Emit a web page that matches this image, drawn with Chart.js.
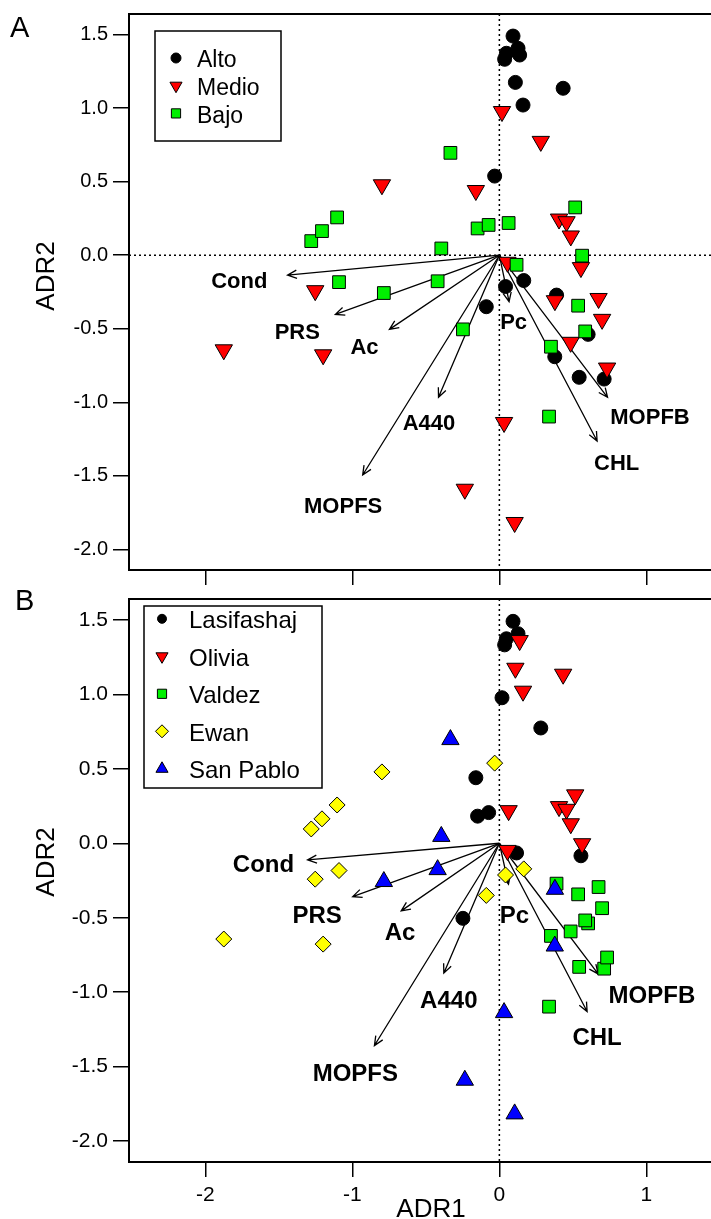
<!DOCTYPE html>
<html>
<head>
<meta charset="utf-8">
<script src="https://cdn.jsdelivr.net/npm/chart.js@4.4.1/dist/chart.umd.min.js"></script>
<style>
  html, body { margin: 0; padding: 0; background: #fff; overflow: hidden; }
  .panneau { position: absolute; left: 0; }
</style>
</head>
<body>
<div class="panneau" style="top:0"><canvas id="chartA" width="711" height="590"></canvas></div>
<div class="panneau" style="top:590px"><canvas id="chartB" width="711" height="629"></canvas></div>
<script>
// Coordonnées des échantillons (identiques dans A et B)
const adr1 = [
  0.093, 0.127, 0.048, 0.138, 0.036, 0.109, 0.434, 0.161, -0.032, 0.166, 0.042, -0.089, 0.389, 0.604, 0.377, 0.543, 0.713,
  0.018, 0.282, -0.799, -0.160, 0.406, 0.457, 0.486, 0.555, 0.055, 0.675, 0.378, 0.699, 0.485, 0.733, 0.032, -0.235, 0.104, -1.253, -1.875, -1.199,
  -0.333, 0.516, -0.148, -0.073, 0.063, -0.395, 0.563, 0.117, -0.420, -0.786, -1.091, -1.280, -1.207, -1.104, 0.536, 0.584, 0.351, -0.248, 0.338
]
const adr2 = [
  1.490, 1.407, 1.373, 1.361, 1.332, 1.175, 1.135, 1.021, 0.538, -0.172, -0.213, -0.350, -0.271, -0.538, -0.690, -0.830, -0.842,
  0.977, 0.774, 0.479, 0.440, 0.246, 0.228, 0.131, -0.084, -0.048, -0.294, -0.309, -0.436, -0.592, -0.767, -1.137, -1.591, -1.817, -0.241, -0.643, -0.677,
  0.696, 0.325, 0.182, 0.206, 0.219, 0.046, -0.003, -0.065, -0.177, -0.257, -0.183, 0.096, 0.164, 0.257, -0.343, -0.518, -0.622, -0.504, -1.097
]
// Groupe de chaque échantillon : niveau (panneau A) et site (panneau B)
const niveau = [
  'Alto', 'Alto', 'Alto', 'Alto', 'Alto', 'Alto', 'Alto', 'Alto', 'Alto', 'Alto', 'Alto', 'Alto', 'Alto', 'Alto', 'Alto', 'Alto', 'Alto',
  'Medio', 'Medio', 'Medio', 'Medio', 'Medio', 'Medio', 'Medio', 'Medio', 'Medio', 'Medio', 'Medio', 'Medio', 'Medio', 'Medio', 'Medio', 'Medio', 'Medio', 'Medio', 'Medio', 'Medio',
  'Bajo', 'Bajo', 'Bajo', 'Bajo', 'Bajo', 'Bajo', 'Bajo', 'Bajo', 'Bajo', 'Bajo', 'Bajo', 'Bajo', 'Bajo', 'Bajo', 'Bajo', 'Bajo', 'Bajo', 'Bajo', 'Bajo'
]
const site = [
  'Lasifashaj', 'Lasifashaj', 'Lasifashaj', 'Olivia', 'Lasifashaj', 'Olivia', 'Olivia', 'Olivia', 'Ewan', 'Ewan', 'Ewan', 'Ewan', 'Valdez', 'Valdez', 'San Pablo', 'Valdez', 'Valdez',
  'Lasifashaj', 'Lasifashaj', 'Ewan', 'Lasifashaj', 'Olivia', 'Olivia', 'Olivia', 'Lasifashaj', 'Olivia', 'Valdez', 'San Pablo', 'Valdez', 'Valdez', 'Valdez', 'San Pablo', 'San Pablo', 'San Pablo', 'Ewan', 'Ewan', 'Ewan',
  'San Pablo', 'Olivia', 'Lasifashaj', 'Lasifashaj', 'Olivia', 'San Pablo', 'Olivia', 'Lasifashaj', 'San Pablo', 'San Pablo', 'Ewan', 'Ewan', 'Ewan', 'Ewan', 'Valdez', 'Valdez', 'Valdez', 'Lasifashaj', 'Valdez'
]
const niveaux = ['Alto', 'Medio', 'Bajo']
const sites = ['Lasifashaj', 'Olivia', 'Valdez', 'Ewan', 'San Pablo']

// Variables du biplot : extrémités des flèches et position des étiquettes
const variables = ['Cond', 'PRS', 'Ac', 'A440', 'MOPFS', 'Pc', 'CHL', 'MOPFB']
const flecheAx = [-1.441, -1.116, -0.748, -0.414, -0.930, 0.066, 0.665, 0.736]
const flecheAy = [-0.135, -0.402, -0.504, -0.966, -1.494, -0.316, -1.263, -0.966]
const etiqAx = [-1.770, -1.375, -0.918, -0.479, -1.063, 0.097, 0.798, 1.025]
const etiqAy = [-0.182, -0.527, -0.633, -1.148, -1.710, -0.459, -1.421, -1.105]
const flecheBx = [-1.305, -0.998, -0.668, -0.378, -0.850, 0.062, 0.597, 0.672]
const flecheBy = [-0.112, -0.358, -0.454, -0.872, -1.358, -0.275, -1.130, -0.877]
const etiqBx = [-1.605, -1.240, -0.676, -0.344, -0.980, 0.102, 0.665, 1.038]
const etiqBy = [-0.146, -0.492, -0.604, -1.063, -1.554, -0.492, -1.308, -1.029]

const police = '"Liberation Sans", Arial, sans-serif'

// Style des marqueurs par groupe
const styles = {
  'Alto':       { forme: 'circle',   rotation: 0,   r: 7,  rLeg: 5,   couleur: '#000000', ordre: 2 },
  'Medio':      { forme: 'triangle', rotation: 180, r: 10, rLeg: 7,   couleur: '#ff0000', ordre: 1 },
  'Bajo':       { forme: 'rect',     rotation: 0,   r: 9,  rLeg: 6.5, couleur: '#00f000', ordre: 0 },
  'Lasifashaj': { forme: 'circle',   rotation: 0,   r: 7,  rLeg: 4.5, couleur: '#000000', ordre: 4 },
  'Olivia':     { forme: 'triangle', rotation: 180, r: 10, rLeg: 7,   couleur: '#ff0000', ordre: 3 },
  'Valdez':     { forme: 'rect',     rotation: 0,   r: 9,  rLeg: 6.5, couleur: '#00f000', ordre: 2 },
  'Ewan':       { forme: 'rectRot',  rotation: 0,   r: 8,  rLeg: 6.5, couleur: '#ffff00', ordre: 1 },
  'San Pablo':  { forme: 'triangle', rotation: 0,   r: 10, rLeg: 7,   couleur: '#0000ff', ordre: 0 }
}

// Plugin : pointillés du zéro, flèches, légende encadrée et titres
function pluginBiplot(p) {
  return {
    id: 'biplot' + p.lettre,
    beforeDatasetsDraw(chart) {
      const { ctx, chartArea: a, scales: { x, y } } = chart
      const x0 = x.getPixelForValue(0)
      const y0 = y.getPixelForValue(0)
      ctx.save()
      ctx.strokeStyle = '#000'
      ctx.lineWidth = 1.5
      ctx.setLineDash([2, 3])
      ctx.beginPath()
      ctx.moveTo(x0, a.top)
      ctx.lineTo(x0, a.bottom)
      if (p.ligneH) {
        ctx.moveTo(a.left, y0)
        ctx.lineTo(a.right, y0)
      }
      ctx.stroke()
      ctx.setLineDash([])
      ctx.lineWidth = 1.3
      variables.forEach((nom, i) => {
        const px = x.getPixelForValue(p.fx[i])
        const py = y.getPixelForValue(p.fy[i])
        const ang = Math.atan2(py - y0, px - x0)
        ctx.beginPath()
        ctx.moveTo(x0, y0)
        ctx.lineTo(px, py)
        ctx.moveTo(px - 10 * Math.cos(ang - 0.42), py - 10 * Math.sin(ang - 0.42))
        ctx.lineTo(px, py)
        ctx.lineTo(px - 10 * Math.cos(ang + 0.42), py - 10 * Math.sin(ang + 0.42))
        ctx.stroke()
        ctx.fillStyle = '#000'
        ctx.font = 'bold ' + p.tailleVar + 'px ' + police
        ctx.textAlign = 'center'
        ctx.textBaseline = 'middle'
        ctx.fillText(nom, x.getPixelForValue(p.ex[i]), y.getPixelForValue(p.ey[i]))
      })
      ctx.restore()
    },
    afterDraw(chart) {
      const { ctx, chartArea: a } = chart
      ctx.save()
      // cadre du haut
      ctx.strokeStyle = '#000'
      ctx.lineWidth = 2
      ctx.beginPath()
      ctx.moveTo(a.left - 1, a.top)
      ctx.lineTo(a.right, a.top)
      ctx.stroke()
      // légende
      const L = p.legende
      ctx.fillStyle = '#fff'
      ctx.fillRect(L.x, L.y, L.w, L.h)
      ctx.lineWidth = 1.5
      ctx.strokeRect(L.x, L.y, L.w, L.h)
      p.groupes.forEach((g, i) => {
        const st = styles[g]
        const ty = L.y + L.premier + i * L.pas
        ctx.fillStyle = st.couleur
        ctx.strokeStyle = '#000'
        ctx.lineWidth = 1
        Chart.helpers.drawPoint(ctx, { pointStyle: st.forme, rotation: st.rotation, radius: st.rLeg, borderWidth: 1 }, L.mx, ty - 3)
        ctx.fillStyle = '#000'
        ctx.font = L.taille + 'px ' + police
        ctx.textAlign = 'left'
        ctx.textBaseline = 'middle'
        ctx.fillText(g, L.tx, ty)
      })
      // lettre du panneau
      ctx.font = '29px ' + police
      ctx.textBaseline = 'alphabetic'
      ctx.fillText(p.lettre, p.lettreX, p.lettreY)
      // titre de l'axe vertical
      ctx.save()
      ctx.translate(47, p.titreY)
      ctx.rotate(-Math.PI / 2)
      ctx.font = '26px ' + police
      ctx.textAlign = 'center'
      ctx.textBaseline = 'middle'
      ctx.fillText('ADR2', 0, 0)
      ctx.restore()
      // titre de l'axe horizontal (panneau du bas)
      if (p.titreX) {
        ctx.font = '26px ' + police
        ctx.textAlign = 'center'
        ctx.textBaseline = 'alphabetic'
        ctx.fillText('ADR1', 431, 627)
      }
      ctx.restore()
    }
  }
}

function creerGraphique(id, p) {
  const datasets = p.groupes.map(g => {
    const st = styles[g]
    return {
      label: g,
      data: adr1.map((v, i) => ({ x: v, y: adr2[i], g: p.cle[i] })).filter(pt => pt.g === g),
      pointStyle: st.forme,
      pointRotation: st.rotation,
      pointRadius: st.r,
      pointHoverRadius: st.r,
      backgroundColor: st.couleur,
      borderColor: '#000',
      borderWidth: 1,
      order: st.ordre
    }
  })
  const config = {
    type: 'scatter',
    data: { datasets: datasets },
    plugins: [pluginBiplot(p)],
    options: {
      responsive: false,
      animation: false,
      devicePixelRatio: 1,
      layout: { autoPadding: false, padding: { top: p.haut, left: 0, right: 0, bottom: 0 } },
      plugins: { legend: { display: false }, tooltip: { enabled: false } },
      scales: {
        x: {
          type: 'linear',
          min: -2.52,
          max: 1.44,
          afterFit: s => { s.height = p.basX; s.paddingLeft = 0; s.paddingRight = 0 },
          border: { display: true, color: '#000', width: 2 },
          grid: { display: true, drawOnChartArea: false, drawTicks: true, tickLength: 15, color: '#000', lineWidth: 1.5 },
          ticks: {
            display: p.etiquettesX,
            stepSize: 1,
            includeBounds: false,
            padding: 6,
            color: '#000',
            font: { family: police, size: p.tailleTick },
            callback: v => String(v)
          }
        },
        y: {
          type: 'linear',
          min: -2.14,
          max: 1.64,
          afterFit: s => { s.width = 129; s.paddingTop = 0; s.paddingBottom = 0 },
          border: { display: true, color: '#000', width: 2 },
          grid: { display: true, drawOnChartArea: false, drawTicks: true, tickLength: 16, color: '#000', lineWidth: 1.5 },
          ticks: {
            stepSize: 0.5,
            includeBounds: false,
            padding: 5,
            color: '#000',
            font: { family: police, size: p.tailleTick },
            callback: v => (Math.abs(v) < 1e-9 ? 0 : v).toFixed(1)
          }
        }
      }
    }
  }
  return new Chart(document.getElementById(id), config)
}

// Panneau A : par niveau
creerGraphique('chartA', {
  lettre: 'A', lettreX: 10, lettreY: 37, titreY: 276, titreX: false,
  groupes: niveaux, cle: niveau, ligneH: true,
  fx: flecheAx, fy: flecheAy, ex: etiqAx, ey: etiqAy, tailleVar: 22,
  haut: 14, basX: 20, etiquettesX: false, tailleTick: 20,
  legende: { x: 155, y: 31, w: 126, h: 110, mx: 176, tx: 197, premier: 30, pas: 27.7, taille: 23 }
})

// Panneau B : par site
creerGraphique('chartB', {
  lettre: 'B', lettreX: 15, lettreY: 20, titreY: 272, titreX: true,
  groupes: sites, cle: site, ligneH: false,
  fx: flecheBx, fy: flecheBy, ex: etiqBx, ey: etiqBy, tailleVar: 24,
  haut: 9, basX: 57, etiquettesX: true, tailleTick: 21,
  legende: { x: 144, y: 16, w: 178, h: 182, mx: 162, tx: 189, premier: 15.8, pas: 37.5, taille: 24 }
})
</script>
</body>
</html>
